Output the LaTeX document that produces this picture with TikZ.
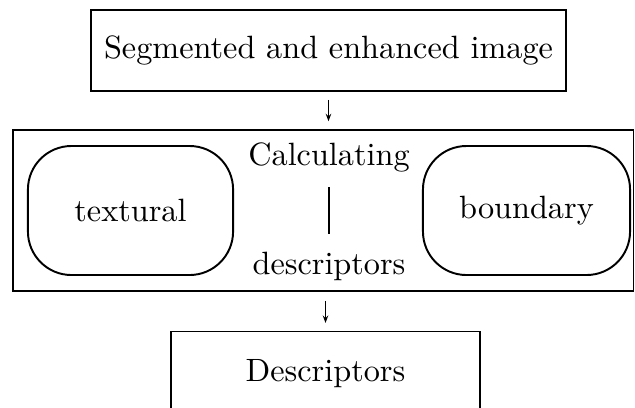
\documentclass[tikz,border=0pt]{standalone}
\usepackage{tikz}
\usetikzlibrary{positioning,arrows.meta}

\begin{document}
\begin{tikzpicture}[x=0.31pt,y=-0.31pt,font=\normalsize,
  >={Stealth[length=2.3pt,width=1.7pt]},
  box/.style={draw,line width=0.45pt,inner sep=0pt},
  pill/.style={draw,line width=0.6pt,rounded corners=13.5pt,inner sep=0pt,
    minimum height=40pt},
  lbl/.style={inner sep=0pt}]
  \useasboundingbox (0,0) rectangle (635,407);
  \clip (0,0) rectangle (635,407);
  \node[box,minimum width=147.3pt,minimum height=25.1pt] (img) at (328.5,50.5)
    {Segmented and enhanced image};
  % frame round the two kinds of descriptors
  \node[box,minimum width=192.4pt,minimum height=49.9pt] (calc) at (323.25,210.5) {};
  \node[pill,minimum width=63.6pt] (tex) at (130.5,210.5) {textural};
  \node[pill,minimum width=64.2pt] (bnd) at (526.5,210.5) {boundary};
  \node[lbl] (head) at (329,157.3) {Calculating};
  \node[lbl] (foot) at (329,266.3) {descriptors};
  \draw[line width=0.6pt,shorten <=4.6pt,shorten >=5.3pt] (head.south) -- (foot.north);
  \node[box,anchor=north,minimum width=95.8pt,minimum height=25.7pt] (desc) at (325.5,331)
    {Descriptors};
  \draw[->,line width=0.45pt,shorten <=2.5pt,shorten >=2.5pt] (img.south) -- (img.south |- calc.north);
  \draw[->,line width=0.45pt,shorten <=2.8pt,shorten >=2.5pt] (desc.north |- calc.south) -- (desc.north);
\end{tikzpicture}
\end{document}
